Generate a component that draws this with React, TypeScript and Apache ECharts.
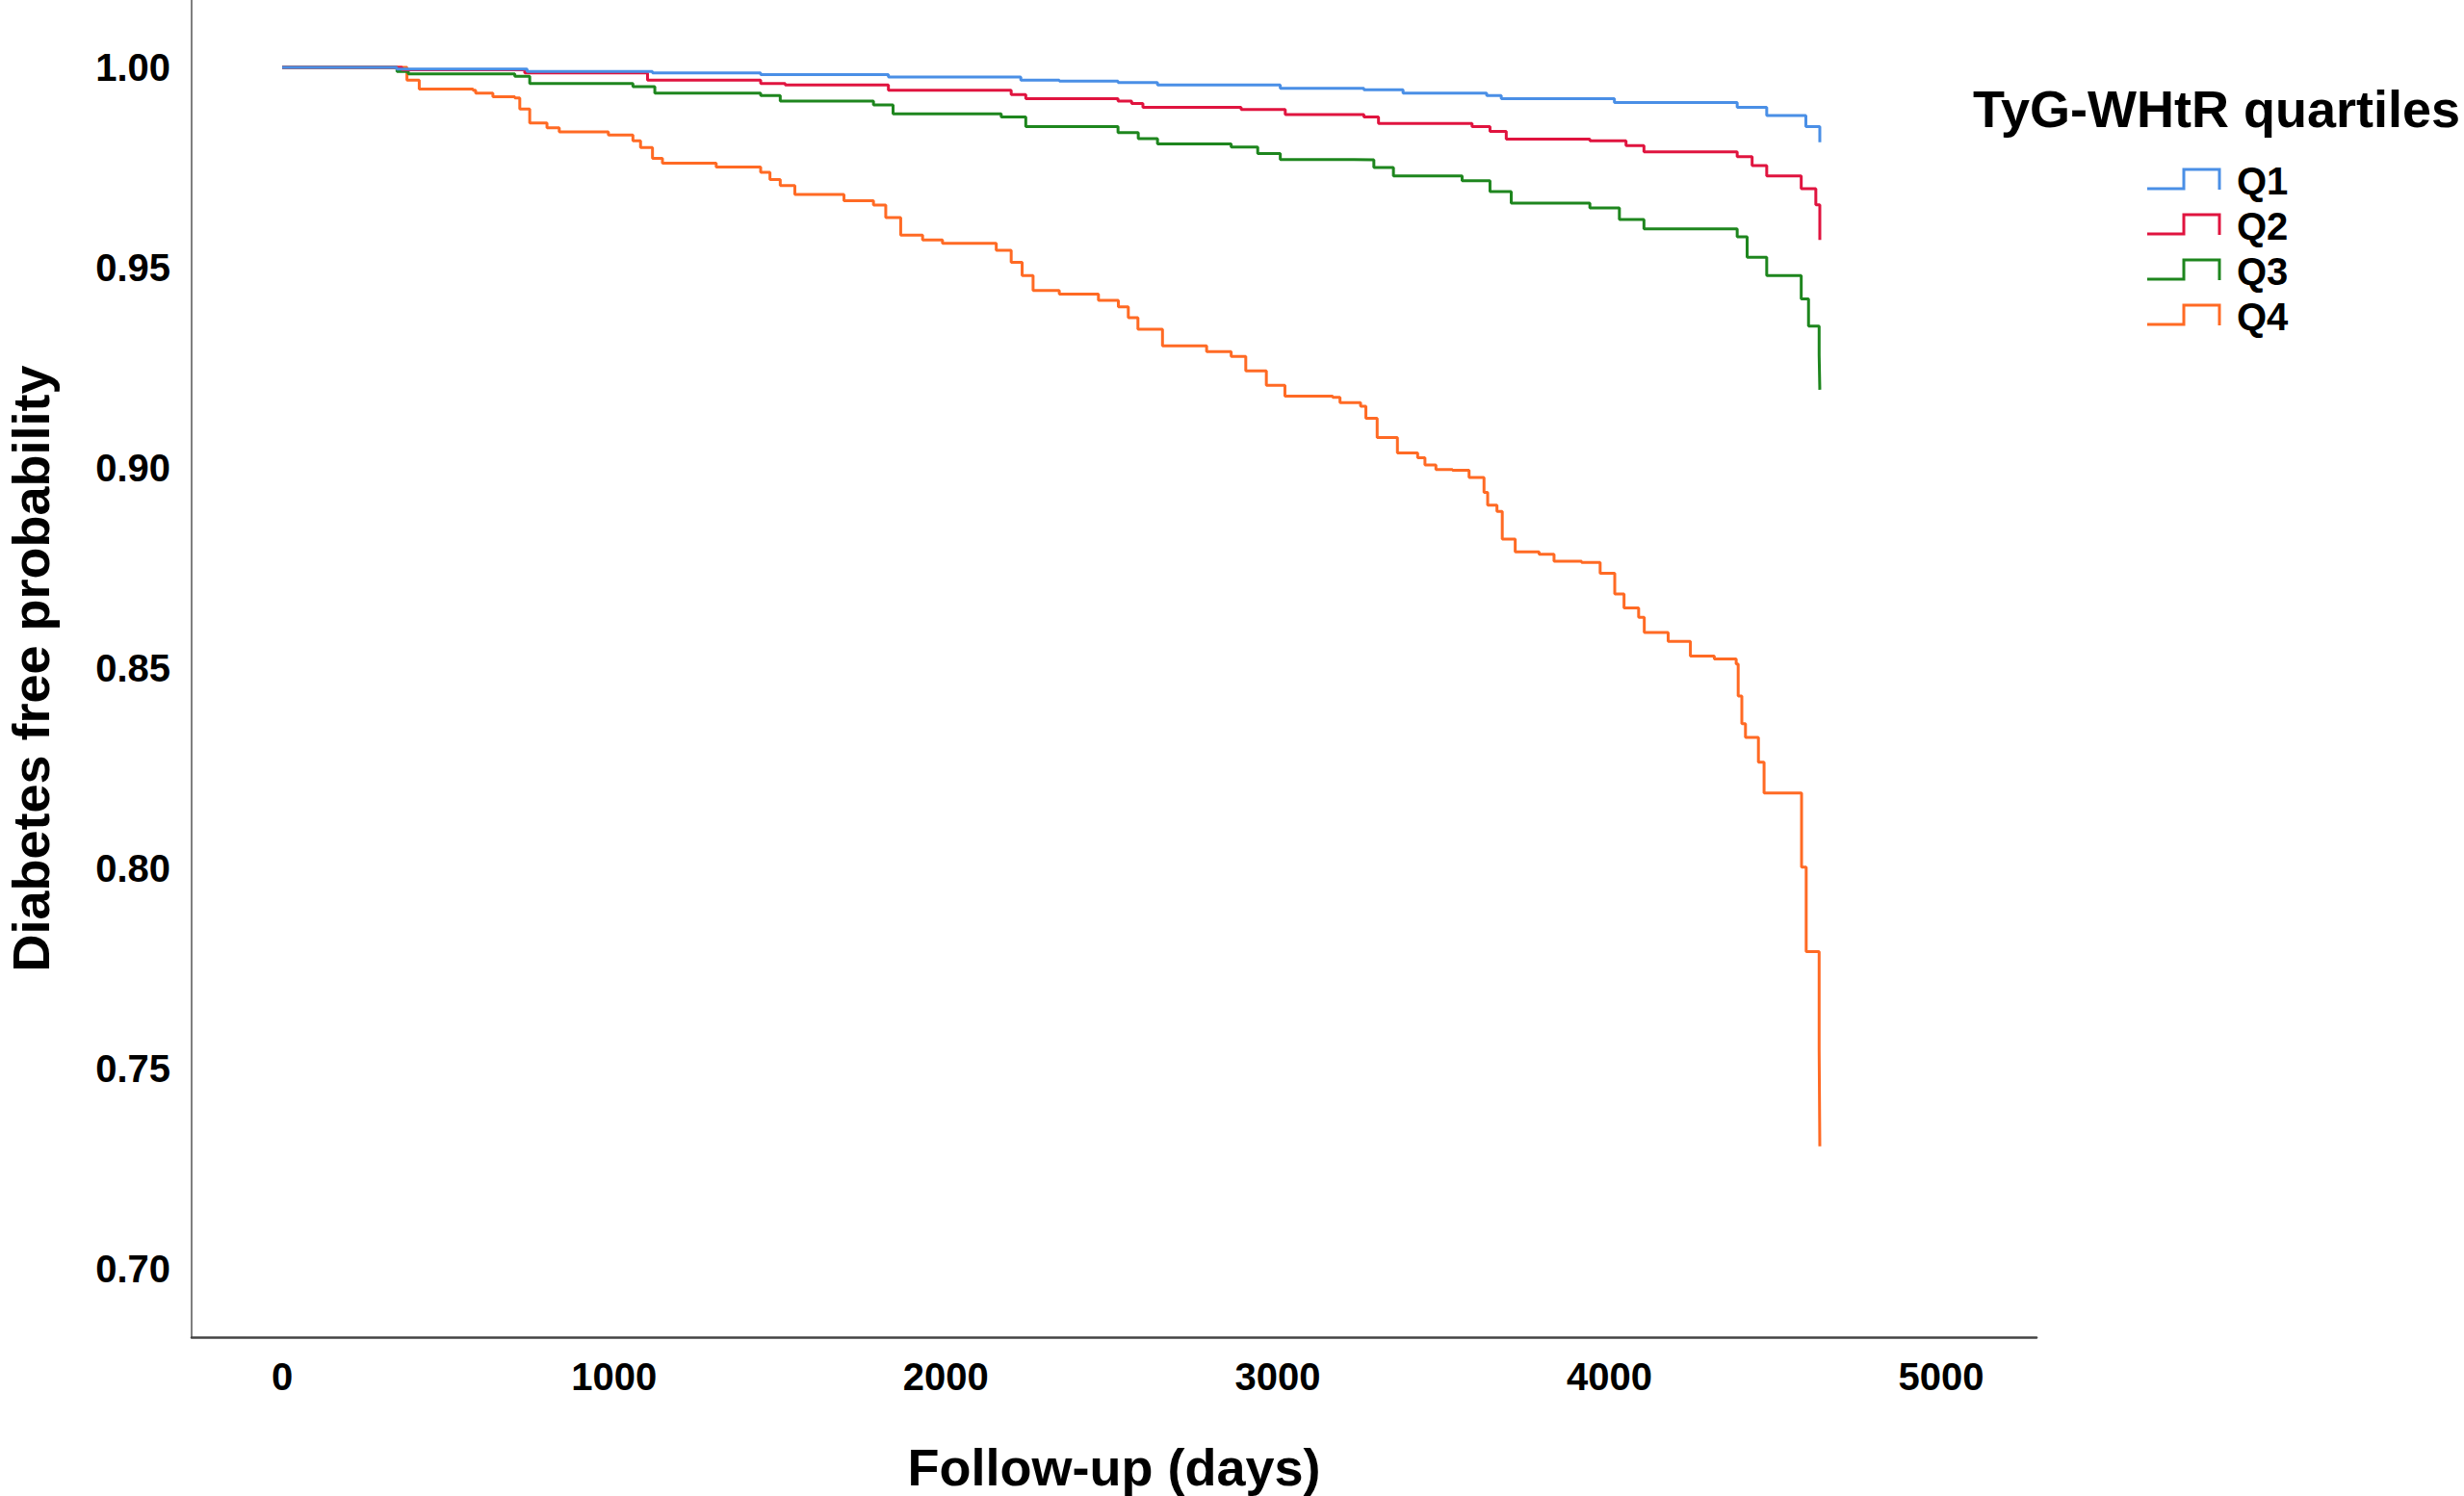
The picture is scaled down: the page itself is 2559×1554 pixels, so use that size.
import React, { useEffect, useRef } from "react";
import * as echarts from "echarts";

// ---- Data ----
const seriesNames = ["Q1", "Q2", "Q3", "Q4"];
const seriesColors = ["#4a8fe6", "#e0143f", "#1e861e", "#ff6a24"];

const xTickValues = [0, 1000, 2000, 3000, 4000, 5000];
const yTickValues = [0.7, 0.75, 0.8, 0.85, 0.9, 0.95, 1.0];

const q1: [number, number][] = [
  [0, 1.0], [345, 0.9996], [738, 0.999], [1116, 0.9986], [1442, 0.9982],
  [1827, 0.9976], [2226, 0.9968], [2342, 0.9966], [2519, 0.9962],
  [2638, 0.9956], [3008, 0.9948], [3260, 0.9944], [3378, 0.9936],
  [3630, 0.993], [3674, 0.9922], [4015, 0.9912], [4385, 0.99],
  [4474, 0.988], [4592, 0.9852], [4634, 0.9813],
];

const q2: [number, number][] = [
  [0, 1.0], [361, 0.9994], [731, 0.9986], [1101, 0.9968], [1442, 0.996],
  [1516, 0.9956], [1827, 0.9943], [2197, 0.9932], [2241, 0.9922],
  [2519, 0.9916], [2560, 0.991], [2594, 0.99], [2890, 0.9895],
  [3023, 0.9882], [3260, 0.9876], [3304, 0.986], [3586, 0.9852],
  [3640, 0.984], [3689, 0.9821], [3941, 0.9817], [4050, 0.9805],
  [4104, 0.9789], [4385, 0.9777], [4430, 0.9755], [4474, 0.9729],
  [4578, 0.9697], [4622, 0.9657], [4634, 0.9569],
];

const q3: [number, number][] = [
  [0, 1.0], [346, 0.999], [380, 0.9984], [701, 0.9978], [746, 0.996],
  [1057, 0.9952], [1123, 0.9936], [1442, 0.993], [1501, 0.9916],
  [1782, 0.9906], [1841, 0.9884], [2167, 0.9876], [2241, 0.9852],
  [2519, 0.9837], [2580, 0.9822], [2638, 0.9809], [2860, 0.9801],
  [2940, 0.9785], [3008, 0.977], [3230, 0.9769], [3290, 0.975],
  [3349, 0.9729], [3556, 0.9717], [3640, 0.969], [3704, 0.9661],
  [3941, 0.9649], [4030, 0.962], [4104, 0.9597], [4385, 0.9577],
  [4415, 0.9526], [4474, 0.948], [4578, 0.9422], [4600, 0.9354],
  [4632, 0.9282], [4634, 0.9195],
];

const q4: [number, number][] = [
  [0, 1.0], [339, 1.0], [376, 0.9968], [413, 0.9946], [575, 0.9943],
  [583, 0.9936], [635, 0.9927], [701, 0.9924], [716, 0.9896],
  [746, 0.9861], [798, 0.9849], [835, 0.9839], [983, 0.9831],
  [1057, 0.9817], [1080, 0.98], [1116, 0.9773], [1146, 0.9761],
  [1308, 0.9751], [1442, 0.9738], [1470, 0.972], [1501, 0.9705],
  [1545, 0.9683], [1693, 0.9667], [1782, 0.9656], [1819, 0.9625],
  [1864, 0.9581], [1930, 0.9569], [1990, 0.9561], [2152, 0.9543],
  [2197, 0.9513], [2230, 0.948], [2263, 0.9443], [2342, 0.9434],
  [2460, 0.9418], [2520, 0.9402], [2550, 0.9375], [2579, 0.9346],
  [2653, 0.9305], [2786, 0.929], [2860, 0.9278], [2904, 0.9242],
  [2966, 0.9206], [3022, 0.9179], [3166, 0.9176], [3188, 0.9163],
  [3250, 0.9154], [3266, 0.9124], [3300, 0.9076], [3361, 0.9037],
  [3422, 0.9025], [3444, 0.9007], [3477, 0.8996], [3527, 0.8994],
  [3577, 0.8976], [3622, 0.8939], [3633, 0.8907], [3661, 0.8891],
  [3677, 0.8822], [3716, 0.879], [3788, 0.8784], [3833, 0.8767],
  [3916, 0.8764], [3972, 0.8737], [4016, 0.8685], [4044, 0.865],
  [4088, 0.8627], [4105, 0.8589], [4177, 0.8567], [4244, 0.853],
  [4316, 0.8523], [4382, 0.851], [4388, 0.843], [4399, 0.8361],
  [4410, 0.8327], [4449, 0.8265], [4466, 0.8188], [4579, 0.8003],
  [4593, 0.7792], [4632, 0.7547], [4634, 0.7306],
];

const allSeries = [q1, q2, q3, q4];

const legendTitle = "TyG-WHtR quartiles";
const xAxisTitle = "Follow-up (days)";
const yAxisTitle = "Diabetes free probability";

const FONT = "'Liberation Sans', Arial, Helvetica, sans-serif";

export default function App() {
  const ref = useRef<HTMLDivElement>(null);

  useEffect(() => {
    if (!ref.current) return;
    const chart = echarts.init(ref.current, undefined, { renderer: "svg" });

    const legendCenters = [187, 234, 281, 328];
    const legendGraphics: any[] = [
      {
        type: "text",
        x: 2049,
        y: 113,
        style: {
          text: legendTitle,
          fontSize: 54,
          fontWeight: "bold",
          fontFamily: FONT,
          fill: "#000",
          align: "left",
          verticalAlign: "middle",
        },
      },
    ];
    seriesNames.forEach((name, i) => {
      const c = legendCenters[i];
      const t = c - 11;
      const b = c + 9;
      legendGraphics.push({
        type: "polyline",
        shape: {
          points: [
            [2230, b],
            [2268, b],
            [2268, t],
            [2305, t],
            [2305, b + 1],
          ],
        },
        style: { stroke: seriesColors[i], lineWidth: 3, fill: "none" },
      });
      legendGraphics.push({
        type: "text",
        x: 2323,
        y: c + 1,
        style: {
          text: name,
          fontSize: 40,
          fontWeight: "bold",
          fontFamily: FONT,
          fill: "#000",
          align: "left",
          verticalAlign: "middle",
        },
      });
    });

    const option: any = {
      animation: false,
      backgroundColor: "#ffffff",
      grid: {
        left: 199,
        top: 0,
        width: 1916,
        height: 1389,
        containLabel: false,
        outerBoundsMode: "none",
      },
      xAxis: {
        type: "value",
        min: -273,
        max: 5287,
        name: xAxisTitle,
        nameLocation: "middle",
        nameGap: 108,
        nameTextStyle: {
          fontSize: 54,
          fontWeight: "bold",
          fontFamily: FONT,
          color: "#000",
        },
        axisLine: { show: true, onZero: false, lineStyle: { color: "#444", width: 2.5 } },
        axisTick: { show: false },
        splitLine: { show: false },
        axisLabel: {
          customValues: xTickValues,
          margin: 21,
          fontSize: 40,
          fontWeight: "bold",
          fontFamily: FONT,
          color: "#000",
          formatter: (v: number) => String(v),
        },
      },
      yAxis: {
        type: "value",
        min: 0.68293,
        max: 1.01683,
        name: yAxisTitle,
        nameLocation: "middle",
        nameGap: 140,
        nameTextStyle: {
          fontSize: 54,
          fontWeight: "bold",
          fontFamily: FONT,
          color: "#000",
        },
        axisLine: { show: true, onZero: false, lineStyle: { color: "#555", width: 1.5 } },
        axisTick: { show: false },
        splitLine: { show: false },
        axisLabel: {
          customValues: yTickValues,
          margin: 22,
          fontSize: 40,
          fontWeight: "bold",
          fontFamily: FONT,
          color: "#000",
          formatter: (v: number) => v.toFixed(2),
        },
      },
      series: allSeries.map((data, i) => ({
        name: seriesNames[i],
        type: "line",
        step: "end",
        data,
        symbol: "none",
        showSymbol: false,
        lineStyle: { color: seriesColors[i], width: 3 },
        itemStyle: { color: seriesColors[i] },
        z: 2 + (3 - i),
      })),
      graphic: legendGraphics,
    };

    chart.setOption(option);
    return () => chart.dispose();
  }, []);

  return (
    <div
      ref={ref}
      style={{ position: "absolute", left: 0, top: 0, width: 2559, height: 1554, background: "#fff" }}
    />
  );
}
